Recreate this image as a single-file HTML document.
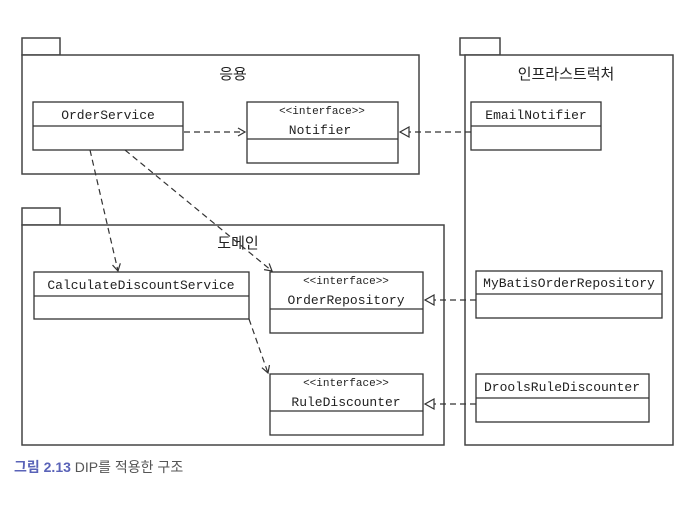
<!DOCTYPE html>
<html><head><meta charset="utf-8"><style>
html,body{margin:0;padding:0;background:#fff;}
svg text{font-family:"Liberation Mono","Noto Sans CJK KR",monospace;fill:#222;}
</style></head><body>
<svg width="690" height="507" viewBox="0 0 690 507" xmlns="http://www.w3.org/2000/svg">
<defs>
<marker id="op" markerWidth="10" markerHeight="10" refX="8" refY="5" orient="auto" markerUnits="userSpaceOnUse"><path d="M1,1 L8,5 L1,9" fill="none" stroke="#333" stroke-width="1.2"/></marker>
<marker id="tri" markerWidth="12" markerHeight="12" refX="10" refY="6" orient="auto" markerUnits="userSpaceOnUse"><path d="M1,1 L10,6 L1,11 Z" fill="#fff" stroke="#333" stroke-width="1.2"/></marker>
</defs>
<g fill="#fff" stroke="#444" stroke-width="1.5">
<rect x="22" y="38" width="38" height="17"/>
<rect x="22" y="55" width="397" height="119"/>
<rect x="22" y="208" width="38" height="17"/>
<rect x="22" y="225" width="422" height="220"/>
<rect x="460" y="38" width="40" height="17"/>
<rect x="465" y="55" width="208" height="390"/>
</g>
<g font-size="15" text-anchor="middle">
<text x="233" y="79">응용</text>
<text x="238" y="248">도메인</text>
<text x="566" y="79">인프라스트럭처</text>
</g>
<g fill="#fff" stroke="#333" stroke-width="1.3">
<rect x="33" y="102" width="150" height="48"/><line x1="33" y1="126" x2="183" y2="126"/>
<rect x="247" y="102" width="151" height="61"/><line x1="247" y1="139" x2="398" y2="139"/>
<rect x="471" y="102" width="130" height="48"/><line x1="471" y1="126" x2="601" y2="126"/>
<rect x="34" y="272" width="215" height="47"/><line x1="34" y1="296" x2="249" y2="296"/>
<rect x="270" y="272" width="153" height="61"/><line x1="270" y1="309" x2="423" y2="309"/>
<rect x="270" y="374" width="153" height="61"/><line x1="270" y1="411" x2="423" y2="411"/>
<rect x="476" y="271" width="186" height="47"/><line x1="476" y1="294" x2="662" y2="294"/>
<rect x="476" y="374" width="173" height="48"/><line x1="476" y1="398" x2="649" y2="398"/>
</g>
<g font-size="13" text-anchor="middle">
<text x="108" y="119">OrderService</text>
<text x="322" y="114" font-size="11">&lt;&lt;interface&gt;&gt;</text>
<text x="320" y="134">Notifier</text>
<text x="536" y="119">EmailNotifier</text>
<text x="141" y="289">CalculateDiscountService</text>
<text x="346" y="284" font-size="11">&lt;&lt;interface&gt;&gt;</text>
<text x="346" y="304">OrderRepository</text>
<text x="346" y="386" font-size="11">&lt;&lt;interface&gt;&gt;</text>
<text x="346" y="406">RuleDiscounter</text>
<text x="569" y="287">MyBatisOrderRepository</text>
<text x="562" y="391">DroolsRuleDiscounter</text>
</g>
<g fill="none" stroke="#333" stroke-width="1.2" stroke-dasharray="6,4">
<line x1="184" y1="132" x2="245" y2="132" marker-end="url(#op)"/>
<line x1="471" y1="132" x2="400" y2="132" marker-end="url(#tri)"/>
<line x1="90" y1="150" x2="118" y2="271" marker-end="url(#op)"/>
<line x1="125" y1="150" x2="272" y2="271" marker-end="url(#op)"/>
<line x1="249" y1="319" x2="268" y2="373" marker-end="url(#op)"/>
<line x1="476" y1="300" x2="425" y2="300" marker-end="url(#tri)"/>
<line x1="476" y1="404" x2="425" y2="404" marker-end="url(#tri)"/>
</g>
<text x="14" y="472" font-size="14" style="font-family:'Liberation Sans','Noto Sans CJK KR',sans-serif"><tspan fill="#5a63b8" font-weight="bold">그림 2.13</tspan><tspan fill="#555"> DIP를 적용한 구조</tspan></text>
</svg>
</body></html>
